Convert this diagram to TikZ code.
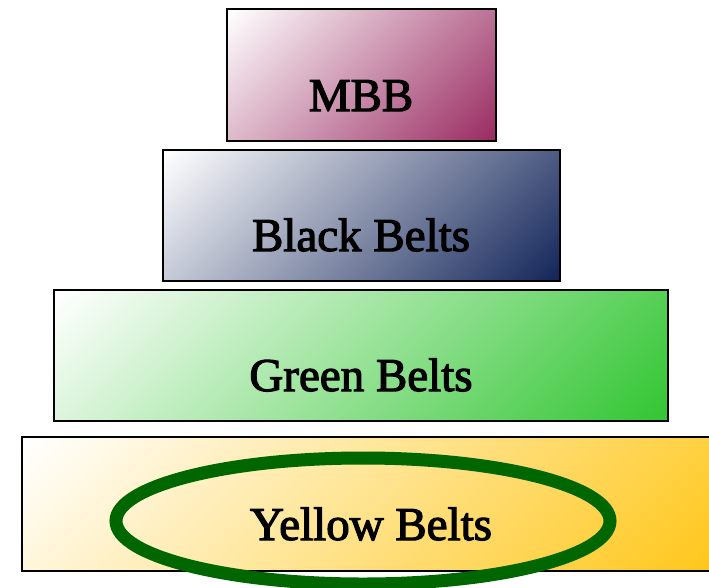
\documentclass[tikz,border=0pt]{standalone}
\usepackage{fontspec}
\setmainfont{Liberation Serif}[FakeBold=2.5]
\definecolor{mbbc}{HTML}{9A2C62}
\definecolor{bbc}{HTML}{14265A}
\definecolor{gbc}{HTML}{33C633}
\definecolor{ybc}{HTML}{FFC71C}
\definecolor{ringc}{HTML}{006600}
\pgfdeclareverticalshading{mbbshade}{100bp}{color(0bp)=(mbbc); color(15bp)=(mbbc); color(85bp)=(white); color(100bp)=(white)}
\pgfdeclareverticalshading{bbshade}{100bp}{color(0bp)=(bbc); color(15bp)=(bbc); color(85bp)=(white); color(100bp)=(white)}
\pgfdeclareverticalshading{gbshade}{100bp}{color(0bp)=(gbc); color(15bp)=(gbc); color(85bp)=(white); color(100bp)=(white)}
\pgfdeclareverticalshading{ybshade}{100bp}{color(0bp)=(ybc); color(15bp)=(ybc); color(85bp)=(white); color(100bp)=(white)}
\tikzset{
  tier/.style={draw=black, line width=1.3pt, shading=#1, shading angle=45},
  tierlabel/.style={anchor=base, font=\fontsize{47}{50}\selectfont, inner sep=0pt},
  ring/.style={draw=ringc, line width=13pt}
}
\begin{document}
\begin{tikzpicture}[x=1pt,y=-1pt]
\useasboundingbox (0,0) rectangle (709,587);
\path[tier=mbbshade] (227,9) rectangle (496,141);
\path[tier=bbshade] (163,150) rectangle (560,281);
\path[tier=gbshade] (54,290) rectangle (668,421);
\path[tier=ybshade] (22,437) rectangle (712,571);
\node[tierlabel] (mbb) at (361,111) {MBB};
\node[tierlabel] (bb) at (361,251) {Black Belts};
\node[tierlabel] (gb) at (361,391) {Green Belts};
\node[tierlabel] (yb) at (371,540) {Yellow Belts};
\draw[ring] (363,521) ellipse [x radius=247, y radius=63];
\end{tikzpicture}
\end{document}
